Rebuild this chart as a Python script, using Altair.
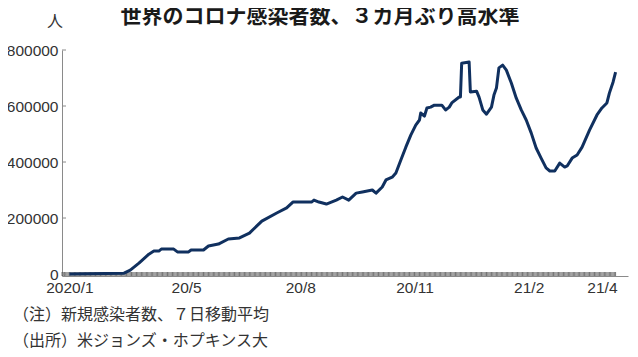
import altair as alt
import pandas as pd

# ---- data ----
dates = [
    "2020-01-28", "2020-03-12", "2020-03-17", "2020-03-24", "2020-04-01", "2020-04-05",
    "2020-04-09", "2020-04-11", "2020-04-21", "2020-04-24", "2020-05-03", "2020-05-05",
    "2020-05-15", "2020-05-19", "2020-05-27", "2020-06-04", "2020-06-13", "2020-06-21",
    "2020-07-01", "2020-07-13", "2020-07-21", "2020-07-26", "2020-08-10", "2020-08-12",
    "2020-08-16", "2020-08-22", "2020-08-30", "2020-09-04", "2020-09-09", "2020-09-15",
    "2020-09-20", "2020-09-28", "2020-10-01", "2020-10-06", "2020-10-09", "2020-10-14",
    "2020-10-17", "2020-10-21", "2020-10-25", "2020-10-29", "2020-11-02", "2020-11-05",
    "2020-11-06", "2020-11-09", "2020-11-11", "2020-11-14", "2020-11-17", "2020-11-23",
    "2020-11-26", "2020-11-29", "2020-12-01", "2020-12-07", "2020-12-08", "2020-12-09",
    "2020-12-15", "2020-12-16", "2020-12-21", "2020-12-23", "2020-12-26", "2020-12-29",
    "2021-01-02", "2021-01-04", "2021-01-06", "2021-01-08", "2021-01-11", "2021-01-14",
    "2021-01-18", "2021-01-22", "2021-01-26", "2021-01-30", "2021-02-03", "2021-02-07",
    "2021-02-11", "2021-02-15", "2021-02-18", "2021-02-22", "2021-02-26", "2021-03-02",
    "2021-03-04", "2021-03-08", "2021-03-12", "2021-03-16", "2021-03-22", "2021-03-28",
    "2021-04-01", "2021-04-05", "2021-04-07", "2021-04-10", "2021-04-12",
]
cases = [
    0, 3000, 14000, 39000, 71000, 82000,
    82000, 89000, 89000, 79000, 79000, 86000,
    86000, 100000, 107000, 125000, 129000, 146000,
    189000, 218000, 236000, 257000, 257000, 264000,
    257000, 250000, 264000, 275000, 264000, 289000,
    293000, 300000, 289000, 311000, 336000, 346000,
    361000, 407000, 453000, 496000, 532000, 550000,
    575000, 564000, 593000, 596000, 603000, 603000,
    586000, 596000, 611000, 632000, 632000, 753000,
    757000, 650000, 653000, 632000, 586000, 571000,
    596000, 639000, 664000, 736000, 746000, 728000,
    682000, 628000, 586000, 550000, 504000, 450000,
    414000, 379000, 368000, 368000, 396000, 382000,
    386000, 414000, 425000, 453000, 514000, 568000,
    593000, 611000, 646000, 686000, 721000,
]

y_ticks = [0, 200000, 400000, 600000, 800000]
x_label_dates = ["2020-01-28", "2020-05-01", "2020-08-01", "2020-11-01", "2021-02-01", "2021-04-01"]
x_labels = ["2020/1", "20/5", "20/8", "20/11", "21/2", "21/4"]
x_domain = ["2020-01-22", "2021-04-22"]
tick_range = ["2020-01-22", "2021-04-12"]

title_text = "世界のコロナ感染者数、３カ月ぶり高水準"
unit_text = "人"
note_texts = ["（注）新規感染者数、７日移動平均", "（出所）米ジョンズ・ホプキンス大"]

# ---- layout ----
W, H = 566, 226
LINE_COLOR = "#10305f"
NUM_FONT = "Liberation Sans"
JP_FONT = "Noto Sans CJK JP"


def dt(s):
    y, m, d = (int(p) for p in s.split("-"))
    return alt.DateTime(year=y, month=m, date=d)


df = pd.DataFrame({"date": pd.to_datetime(dates), "value": cases})
tick_df = pd.DataFrame({"date": pd.date_range(tick_range[0], tick_range[1], freq="D")})
ytick_df = pd.DataFrame({"v": y_ticks})

label_expr = "''"
for d, lab in reversed(list(zip(x_label_dates, x_labels))):
    label_expr = f"timeFormat(datum.value, '%Y-%m-%d') == '{d}' ? '{lab}' : ({label_expr})"

x_scale = alt.Scale(domain=[dt(x_domain[0]), dt(x_domain[1])])
y_scale = alt.Scale(domain=[-7000, 800000], nice=False, zero=False)

x_axis = alt.Axis(
    values=[dt(d) for d in x_label_dates], labelExpr=label_expr, title=None, grid=False,
    ticks=False, domainColor="#8a8a8a", labelFont=NUM_FONT, labelFontSize=15.5,
    labelColor="#333333", labelPadding=4, labelFlush=False, labelOverlap=False,
)
y_axis = alt.Axis(
    values=y_ticks, format="d", title=None, grid=False, ticks=False, domainColor="#8a8a8a",
    labelFont=NUM_FONT, labelFontSize=15.5, labelColor="#333333", labelPadding=4,
)

base_x = alt.X("date:T", scale=x_scale, axis=x_axis)

day_ticks = alt.Chart(tick_df).mark_rule(color="#3a3a3a", strokeWidth=0.7).encode(
    x=alt.X("date:T", scale=x_scale, axis=x_axis),
    y=alt.value(H - 4),
    y2=alt.value(H),
)

y_tickmarks = alt.Chart(ytick_df).mark_rule(color="#8a8a8a", strokeWidth=1).encode(
    y=alt.Y("v:Q", scale=y_scale, axis=y_axis),
    x=alt.value(0),
    x2=alt.value(4),
)

line = alt.Chart(df).mark_line(color=LINE_COLOR, strokeWidth=3, strokeJoin="round").encode(
    x=base_x,
    y=alt.Y("value:Q", scale=y_scale, axis=y_axis),
)


def label(text, x, y, size, font=JP_FONT, weight="normal", align="left", color="#333333"):
    return alt.Chart(pd.DataFrame({"t": [text]})).mark_text(
        font=font, fontSize=size, fontWeight=weight, align=align, baseline="middle", color=color
    ).encode(x=alt.value(x), y=alt.value(y), text="t:N")


title = label(title_text, 258, -33, 21, weight="bold", align="center", color="#1a1a1a")
unit = label(unit_text, -7, -28, 16, align="center")
note1 = label(note_texts[0], -49, 265, 16)
note2 = label(note_texts[1], -49, 291, 16)

chart = (
    alt.layer(day_ticks, y_tickmarks, line, title, unit, note1, note2)
    .properties(
        width=W,
        height=H,
        autosize=alt.AutoSizeParams(type="none"),
        padding={"left": 54, "top": 42, "right": 2, "bottom": 73},
        background="white",
    )
    .configure_view(stroke=None)
)

chart.save("out.html", embed_options={"renderer": "svg", "actions": False})
